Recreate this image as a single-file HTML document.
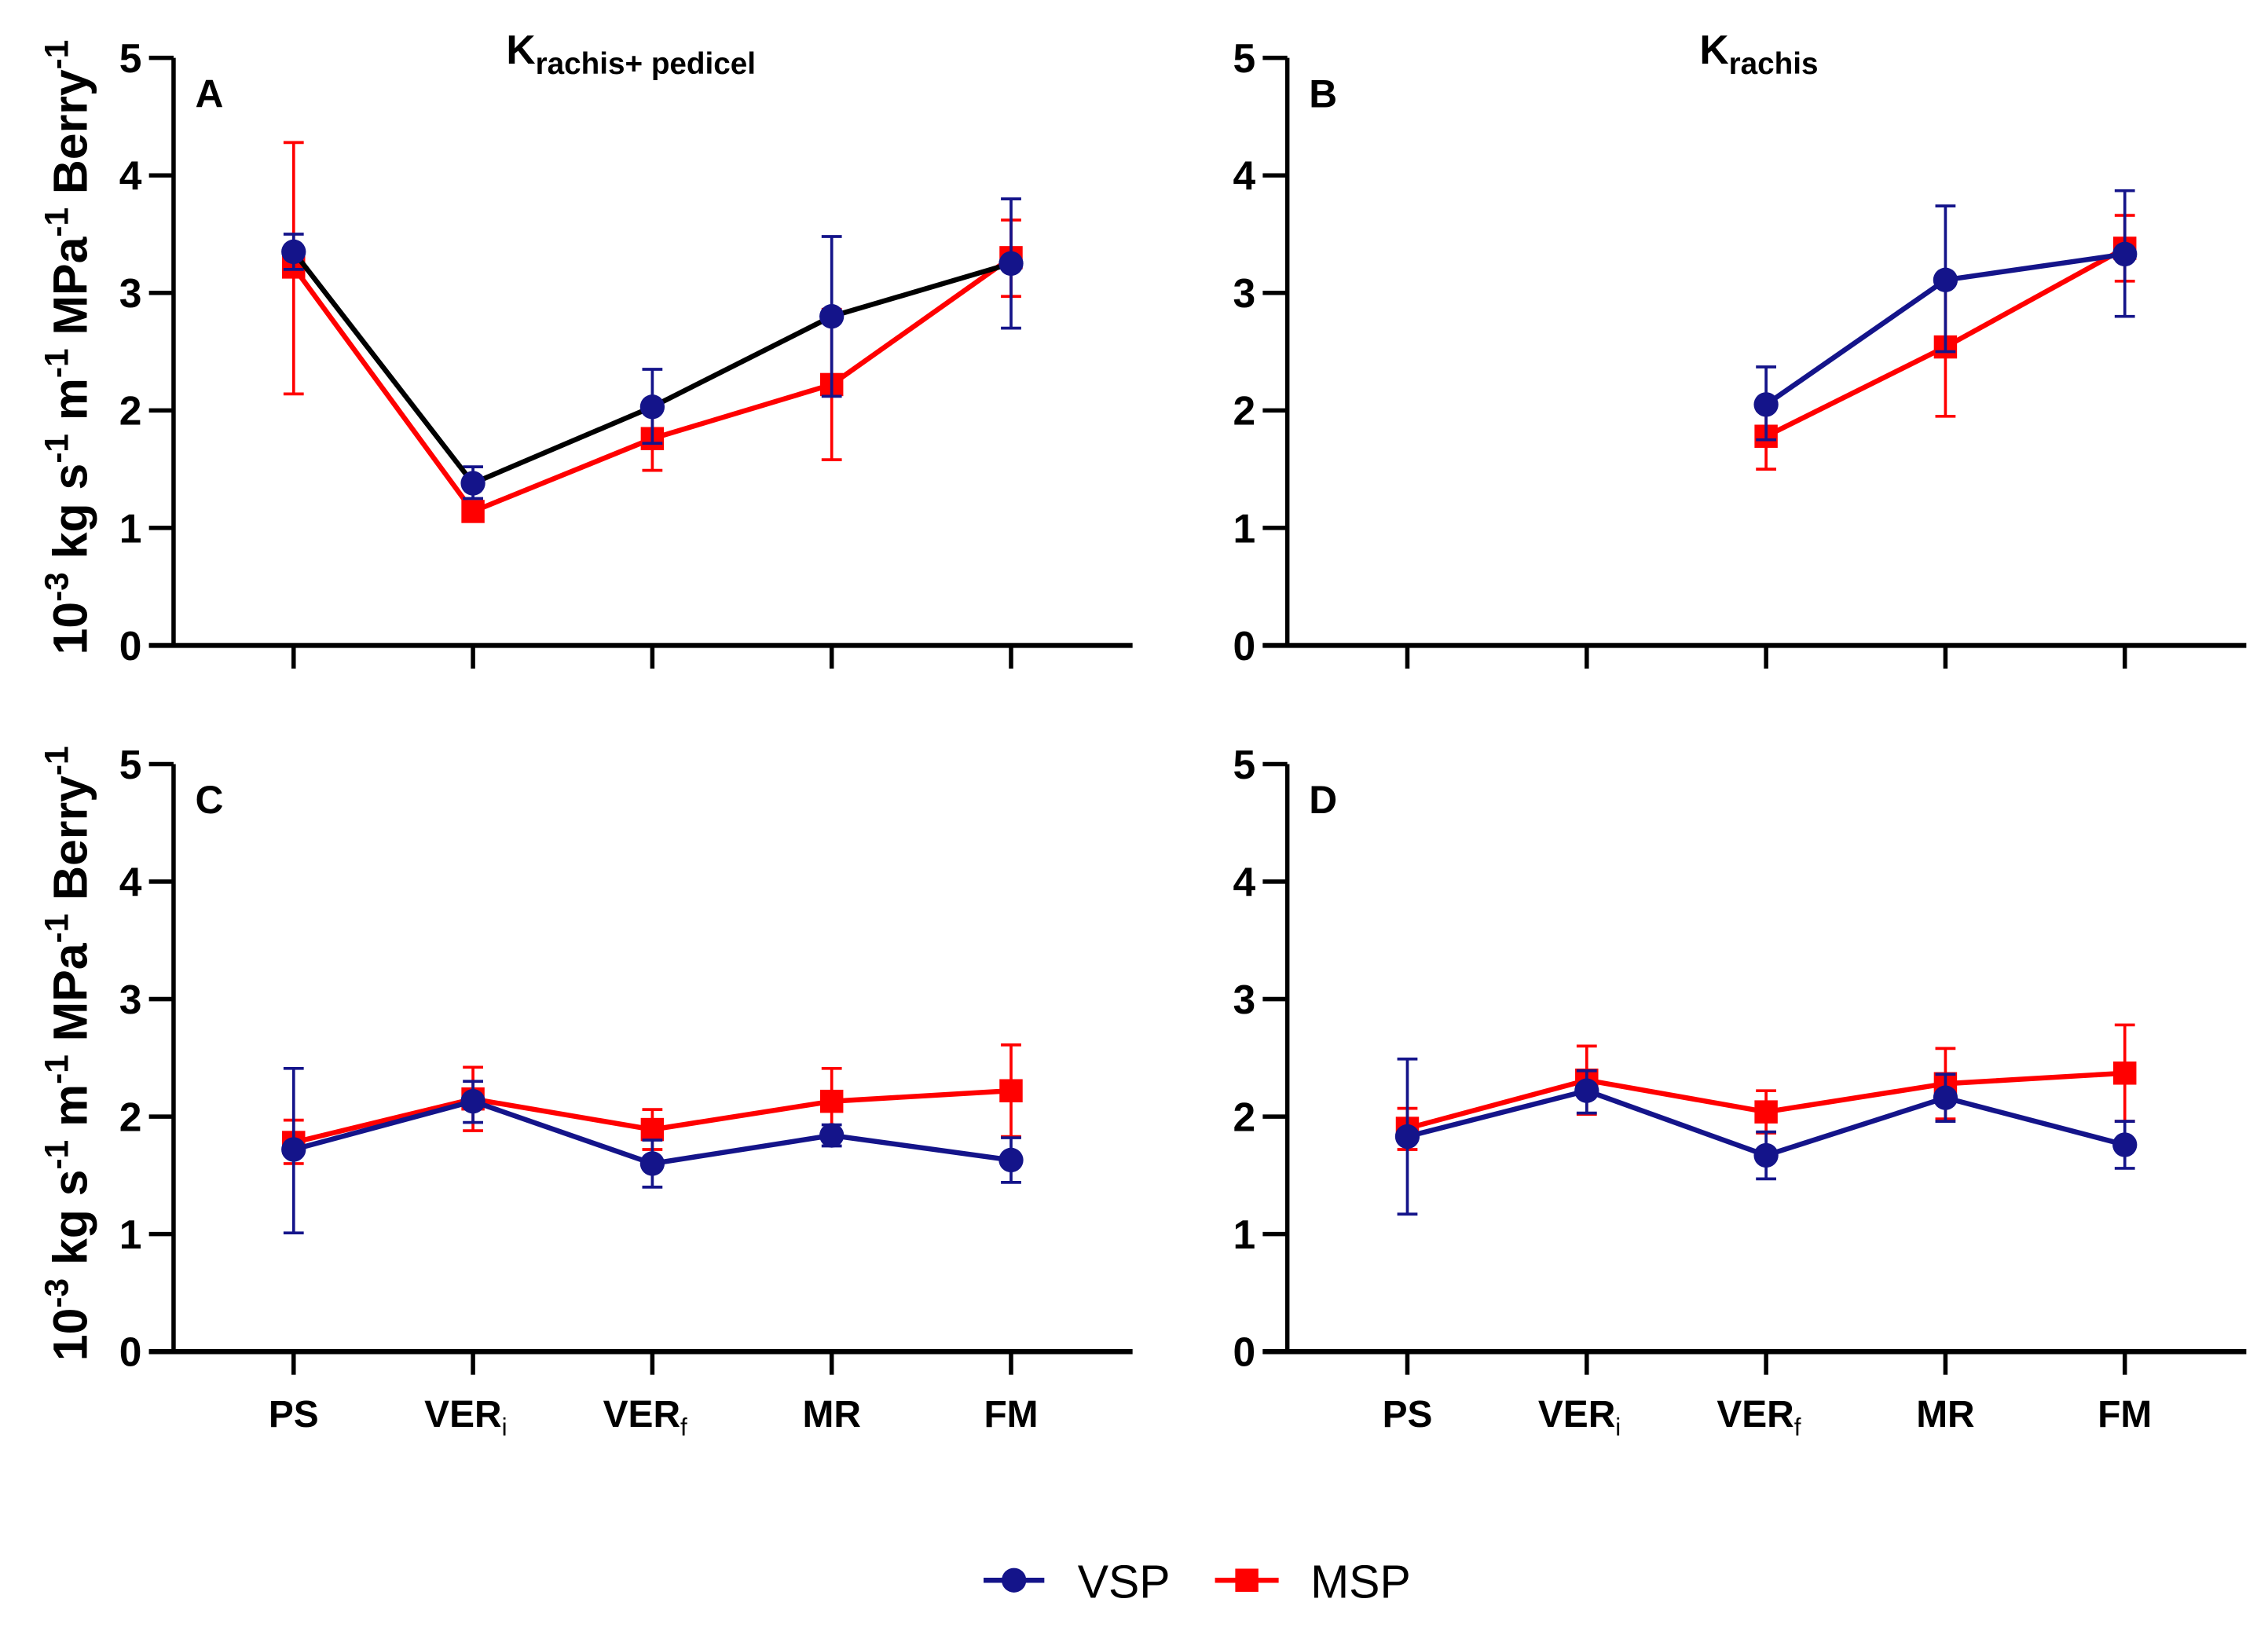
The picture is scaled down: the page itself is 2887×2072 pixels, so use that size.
<!DOCTYPE html>
<html><head><meta charset="utf-8"><style>
html,body{margin:0;padding:0;background:#fff;}
svg{display:block;}
text{font-family:"Liberation Sans",sans-serif;}
</style></head><body>
<svg id="chart" width="2887" height="2072" viewBox="0 0 1568 1125" preserveAspectRatio="none" xmlns="http://www.w3.org/2000/svg"></svg>
<script>
const categories = ["PS","VER","VER","MR","FM"];
const catSubs = ["","i","f","",""];
const yTicks = [0,1,2,3,4,5];
const aVSP = [3.35,1.38,2.03,2.80,3.25];
const aVSPlo = [3.20,1.25,1.72,2.12,2.70];
const aVSPhi = [3.50,1.52,2.35,3.48,3.80];
const aMSP = [3.22,1.14,1.76,2.22,3.30];
const aMSPlo = [2.14,1.08,1.49,1.58,2.97];
const aMSPhi = [4.28,1.20,2.00,2.86,3.62];
const bVSP = [null,null,2.05,3.11,3.33];
const bVSPlo = [null,null,1.75,2.50,2.80];
const bVSPhi = [null,null,2.37,3.74,3.87];
const bMSP = [null,null,1.78,2.54,3.38];
const bMSPlo = [null,null,1.50,1.95,3.10];
const bMSPhi = [null,null,2.00,3.10,3.66];
const cVSP = [1.72,2.13,1.60,1.84,1.63];
const cVSPlo = [1.01,1.95,1.40,1.75,1.44];
const cVSPhi = [2.41,2.30,1.80,1.93,1.82];
const cMSP = [1.78,2.15,1.89,2.13,2.22];
const cMSPlo = [1.60,1.88,1.72,1.85,1.83];
const cMSPhi = [1.97,2.42,2.06,2.41,2.61];
const dVSP = [1.83,2.22,1.67,2.16,1.76];
const dVSPlo = [1.17,2.03,1.47,1.96,1.56];
const dVSPhi = [2.49,2.39,1.87,2.36,1.96];
const dMSP = [1.90,2.31,2.04,2.28,2.37];
const dMSPlo = [1.72,2.02,1.86,1.98,1.96];
const dMSPhi = [2.07,2.60,2.22,2.58,2.78];

const NS="http://www.w3.org/2000/svg";
const svg=document.getElementById('chart');
function el(tag,attrs,parent){const e=document.createElementNS(NS,tag);for(const k in attrs)e.setAttribute(k,attrs[k]);(parent||svg).appendChild(e);return e;}
const NAVY="#14148a", RED="#ff0000";

function panel(id,ax,y0,letter,vsp,vlo,vhi,msp,mlo,mhi,vspLine,showX){
  const g=el('g',{});
  
  
  const yS=v=>y0-v*(y0-(y0-406))/5;
  const xS=i=>ax+83+i*124;
  const ya=el('line',{x1:ax,y1:yS(5),x2:ax,y2:y0,stroke:'#000','stroke-width':3},g);
  
  
  const xa=el('line',{x1:ax-17,y1:y0,x2:ax+663,y2:y0,stroke:'#000','stroke-width':3.5},g);
  
  
  yTicks.forEach(t=>{
    const y=yS(t);
    el('line',{x1:ax-17,y1:y,x2:ax,y2:y,stroke:'#000','stroke-width':3},g);
    const tx=el('text',{x:ax-22,y:y+10,'text-anchor':'end','font-size':28,'font-weight':'bold'},g);
    tx.textContent=t;
    
    
  });
  categories.forEach((c,i)=>{
    el('line',{x1:xS(i),y1:y0,x2:xS(i),y2:y0+16,stroke:'#000','stroke-width':3},g);
    if(showX){
      const tx=el('text',{x:xS(i)-(catSubs[i]?5:0),y:y0+52,'text-anchor':'middle','font-size':26,'font-weight':'bold'},g);
      tx.textContent=c;
      
      
      if(catSubs[i]){const s=el('tspan',{'font-size':17,dy:6,'font-weight':'normal'},tx);s.textContent=catSubs[i];}
    }
  });
  const lt=el('text',{x:ax+15,y:y0-372,'font-size':27,'font-weight':'bold'},g);
  lt.textContent=letter;
  
  
  function series(vals,lo,hi,color,lineColor,marker,name){
    const pts=[];vals.forEach((v,i)=>{if(v!==null)pts.push([xS(i),yS(v)]);});
    vals.forEach((v,i)=>{if(v===null)return;const x=xS(i);
      const eb=el('path',{d:`M${x},${yS(lo[i])}V${yS(hi[i])}M${x-7},${yS(lo[i])}H${x+7}M${x-7},${yS(hi[i])}H${x+7}`,stroke:color,'stroke-width':2,fill:'none'},g);
      
      
    });
    const pl=el('polyline',{points:pts.map(p=>p.join(',')).join(' '),stroke:lineColor,'stroke-width':3.5,fill:'none'},g);
    
    
    pts.forEach(p=>{
      let m;
      if(marker==='c')m=el('circle',{cx:p[0],cy:p[1],r:8.5,fill:color},g);
      else m=el('rect',{x:p[0]-8,y:p[1]-8,width:16,height:16,fill:color},g);
      
      
    });
  }
  series(msp,mlo,mhi,RED,RED,'s','msp');
  series(vsp,vlo,vhi,NAVY,vspLine,'c','vsp');
}
panel('a',120,446,'A',aVSP,aVSPlo,aVSPhi,aMSP,aMSPlo,aMSPhi,'#000',false);
panel('b',890,446,'B',bVSP,bVSPlo,bVSPhi,bMSP,bMSPlo,bMSPhi,NAVY,false);
panel('c',120,934,'C',cVSP,cVSPlo,cVSPhi,cMSP,cMSPlo,cMSPhi,NAVY,true);
panel('d',890,934,'D',dVSP,dVSPlo,dVSPhi,dMSP,dMSPlo,dMSPhi,NAVY,true);

function title(x,y,sub,name){
  const t=el('text',{x:x,y:y,'font-size':28,'font-weight':'bold'});
  
  
  t.textContent='K';
  const s=el('tspan',{'font-size':21,dy:7},t);s.textContent=sub;
}
title(350,44,'rachis+ pedicel','title-a');
title(1175,44,'rachis','title-b');

function ylab(cy,name){
  const t=el('text',{x:0,y:0,'font-size':33,'font-weight':'bold','text-anchor':'middle',transform:`translate(60,${cy}) rotate(-90)`});
  
  
  const parts=[['10',''],['-3','sup'],[' kg s',''],['-1','sup'],[' m',''],['-1','sup'],[' MPa',''],['-1','sup'],[' Berry',''],['-1','sup']];
  parts.forEach(p=>{const s=el('tspan',p[1]?{'font-size':23,dy:-13}:{dy:13},t);s.textContent=p[0];});
  t.firstChild.setAttribute('dy',0);
}
ylab(240,'y-axis-title-top');
ylab(728,'y-axis-title-bottom');

const lg=el('g',{});


el('line',{x1:680,y1:1092,x2:722,y2:1092,stroke:NAVY,'stroke-width':3.5},lg);
el('circle',{cx:701,cy:1092,r:8.5,fill:NAVY},lg);
const t1=el('text',{x:745,y:1104,'font-size':32},lg);t1.textContent='VSP';


el('line',{x1:840,y1:1092,x2:884,y2:1092,stroke:RED,'stroke-width':3.5},lg);
el('rect',{x:854,y:1084,width:16,height:16,fill:RED},lg);
const t2=el('text',{x:906,y:1104,'font-size':32},lg);t2.textContent='MSP';


</script>
</body></html>
